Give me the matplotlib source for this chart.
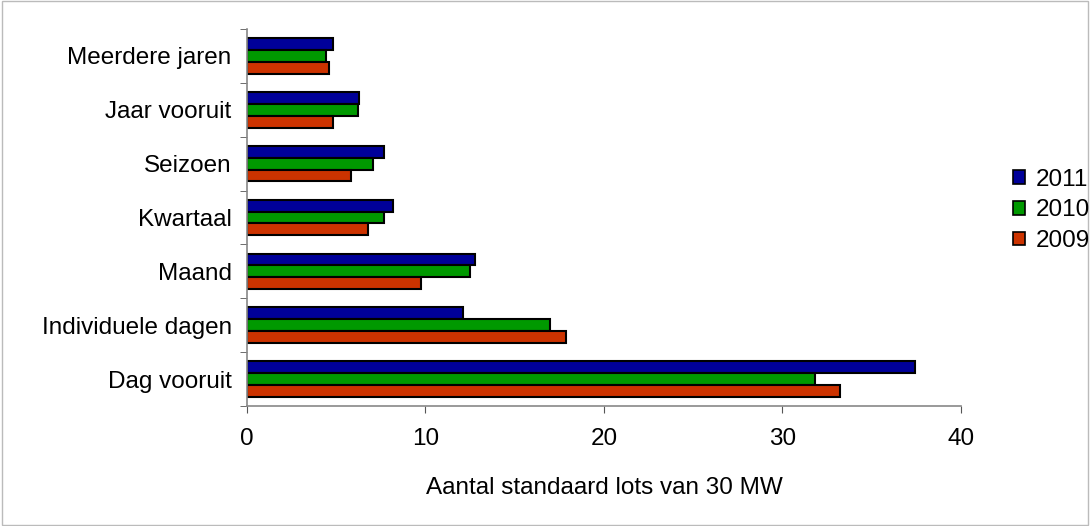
import matplotlib
matplotlib.use("Agg")
import matplotlib.pyplot as plt
import numpy as np
from matplotlib.patches import Rectangle

categories = ["Dag vooruit", "Individuele dagen", "Maand", "Kwartaal", "Seizoen", "Jaar vooruit", "Meerdere jaren"]
series_names = ["2011", "2010", "2009"]
v2011 = [37.4, 12.1, 12.8, 8.2, 7.7, 6.3, 4.8]
v2010 = [31.8, 17.0, 12.5, 7.7, 7.05, 6.2, 4.4]
v2009 = [33.2, 17.9, 9.75, 6.8, 5.8, 4.8, 4.6]
colors = ["#000099", "#009900", "#CC3300"]
xticks = [0, 10, 20, 30, 40]

plt.rcParams['font.family'] = ['Liberation Sans', 'DejaVu Sans']
FS = 17.5

fig = plt.figure(figsize=(10.9, 5.26), dpi=100)
fig.patches.append(Rectangle((0.002, 0.002), 0.996, 0.996, transform=fig.transFigure,
                             fill=False, edgecolor="#BBBBBB", linewidth=1))
ax = fig.add_axes([0.2266, 0.228, 0.655, 0.717])

y = np.arange(len(categories))
h = 0.22
offsets = [h, 0, -h]
for vals, off, col, name in zip([v2011, v2010, v2009], offsets, colors, series_names):
    ax.barh(y + off, vals, height=h, color=col, edgecolor="black", linewidth=1.5, label=name)

ax.set_ylim(-0.5, len(categories) - 0.5)
ax.set_xlim(0, 40)
ax.set_xticks(xticks)
ax.set_xticklabels([str(t) for t in xticks], fontsize=FS)
ax.set_yticks(y)
ax.set_yticklabels(categories, fontsize=FS)
ax.tick_params(axis='y', length=0, pad=11)
ax.set_yticks(np.arange(-0.5, len(categories)), minor=True)
ax.tick_params(axis='y', which='minor', length=5, color="#555555", direction='out')
ax.tick_params(axis='x', length=5, color="#555555", direction='out', pad=10.5)
for s in ["top", "right"]:
    ax.spines[s].set_visible(False)
for s in ["left", "bottom"]:
    ax.spines[s].set_color("#888888")
    ax.spines[s].set_linewidth(1.2)
ax.set_xlabel("Aantal standaard lots van 30 MW", fontsize=FS, labelpad=20)

leg = fig.legend(loc="center left", bbox_to_anchor=(0.929, 0.6), frameon=False, fontsize=FS,
                 handlelength=0.5, handleheight=0.5, handletextpad=0.45, labelspacing=0.36,
                 borderpad=0, borderaxespad=0)
for p in leg.get_patches():
    p.set_linewidth(1.2)

fig.savefig("out.png", dpi=100)
